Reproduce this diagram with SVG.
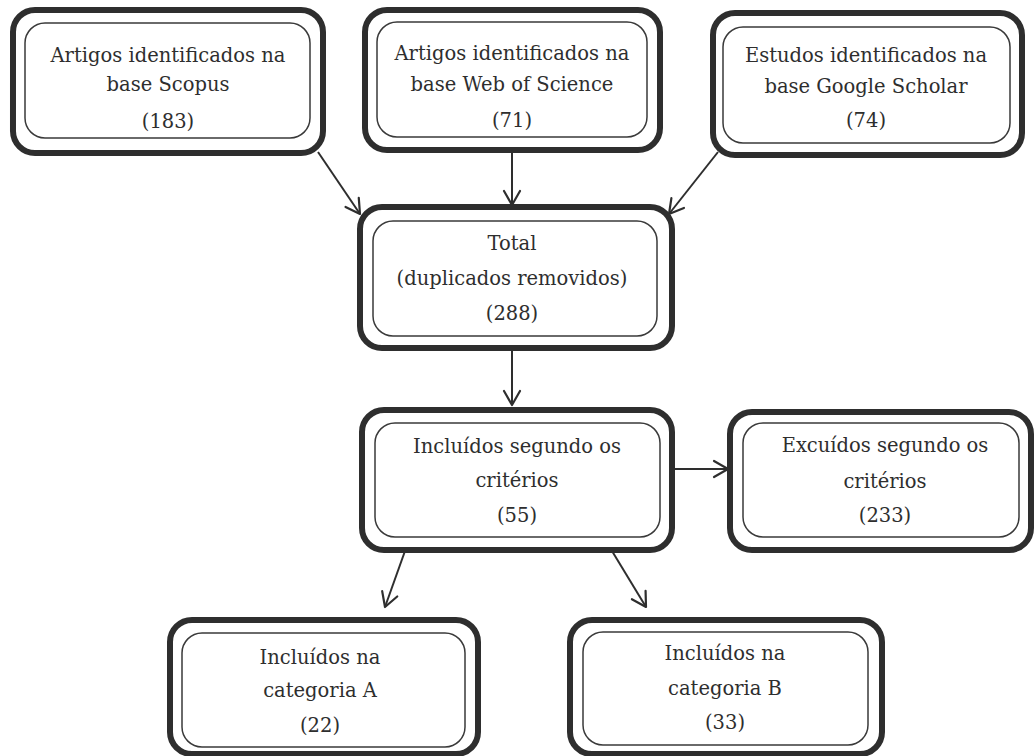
<svg xmlns="http://www.w3.org/2000/svg" width="1035" height="756" viewBox="0 0 1035 756">
<style>
.o{fill:#fff;stroke:#2e2e2e;stroke-width:6}
.i{fill:#fff;stroke:#3a3a3a;stroke-width:1.5}
text{font-family:"DejaVu Serif","Liberation Serif",serif;font-size:19.5px;fill:#2e2e2e;text-anchor:middle}
.c{stroke:#2e2e2e;stroke-width:2;fill:none;marker-end:url(#ah)}
</style>
<defs>
<marker id="ah" viewBox="0 0 20 20" refX="18" refY="10" markerWidth="20" markerHeight="20" markerUnits="userSpaceOnUse" orient="auto">
<polyline points="4,2 18,10 4,18" fill="none" stroke="#2e2e2e" stroke-width="2.2" stroke-linecap="round" stroke-linejoin="round"/>
</marker>
</defs>
<rect width="1035" height="756" fill="#fff"/>
<g id="connectors">
<line class="c" x1="318" y1="152" x2="360" y2="214"/>
<line class="c" x1="512" y1="151" x2="512" y2="205"/>
<line class="c" x1="718" y1="152" x2="669" y2="214"/>
<line class="c" x1="512" y1="348" x2="512" y2="405"/>
<line class="c" x1="672" y1="469" x2="728" y2="469"/>
<line class="c" x1="405" y1="551" x2="385" y2="607"/>
<line class="c" x1="612" y1="551" x2="646" y2="607"/>
</g>
<g id="scopus">
<rect class="o" x="13" y="10" width="310" height="143" rx="22"/>
<rect class="i" x="25" y="23" width="285" height="115" rx="20"/>
<text x="168" y="62">Artigos identificados na</text>
<text x="168" y="91">base Scopus</text>
<text x="168" y="128">(183)</text>
</g>
<g id="wos">
<rect class="o" x="365" y="10" width="295" height="140" rx="22"/>
<rect class="i" x="377" y="22" width="270" height="115" rx="20"/>
<text x="512" y="60">Artigos identificados na</text>
<text x="512" y="91">base Web of Science</text>
<text x="512" y="127">(71)</text>
</g>
<g id="scholar">
<rect class="o" x="713" y="13" width="309" height="142" rx="22"/>
<rect class="i" x="723" y="27" width="287" height="116" rx="20"/>
<text x="866" y="62">Estudos identificados na</text>
<text x="866" y="93">base Google Scholar</text>
<text x="866" y="127">(74)</text>
</g>
<g id="total">
<rect class="o" x="360" y="207" width="312" height="141" rx="22"/>
<rect class="i" x="373" y="221" width="284" height="115" rx="20"/>
<text x="512" y="250">Total</text>
<text x="512" y="285">(duplicados removidos)</text>
<text x="512" y="320">(288)</text>
</g>
<g id="incluidos">
<rect class="o" x="362" y="410" width="310" height="140" rx="22"/>
<rect class="i" x="375" y="423" width="285" height="114" rx="20"/>
<text x="517" y="453">Incluídos segundo os</text>
<text x="517" y="487">critérios</text>
<text x="517" y="522">(55)</text>
</g>
<g id="excluidos">
<rect class="o" x="730" y="412" width="301" height="138" rx="22"/>
<rect class="i" x="743" y="423" width="276" height="114" rx="20"/>
<text x="885" y="452">Excuídos segundo os</text>
<text x="885" y="488">critérios</text>
<text x="885" y="522">(233)</text>
</g>
<g id="catA">
<rect class="o" x="170" y="620" width="308" height="134" rx="22"/>
<rect class="i" x="182" y="633" width="283" height="114" rx="20"/>
<text x="320" y="664">Incluídos na</text>
<text x="320" y="697">categoria A</text>
<text x="320" y="732">(22)</text>
</g>
<g id="catB">
<rect class="o" x="570" y="620" width="312" height="134" rx="22"/>
<rect class="i" x="583" y="632" width="285" height="113" rx="20"/>
<text x="725" y="660">Incluídos na</text>
<text x="725" y="695">categoria B</text>
<text x="725" y="729">(33)</text>
</g>
</svg>
